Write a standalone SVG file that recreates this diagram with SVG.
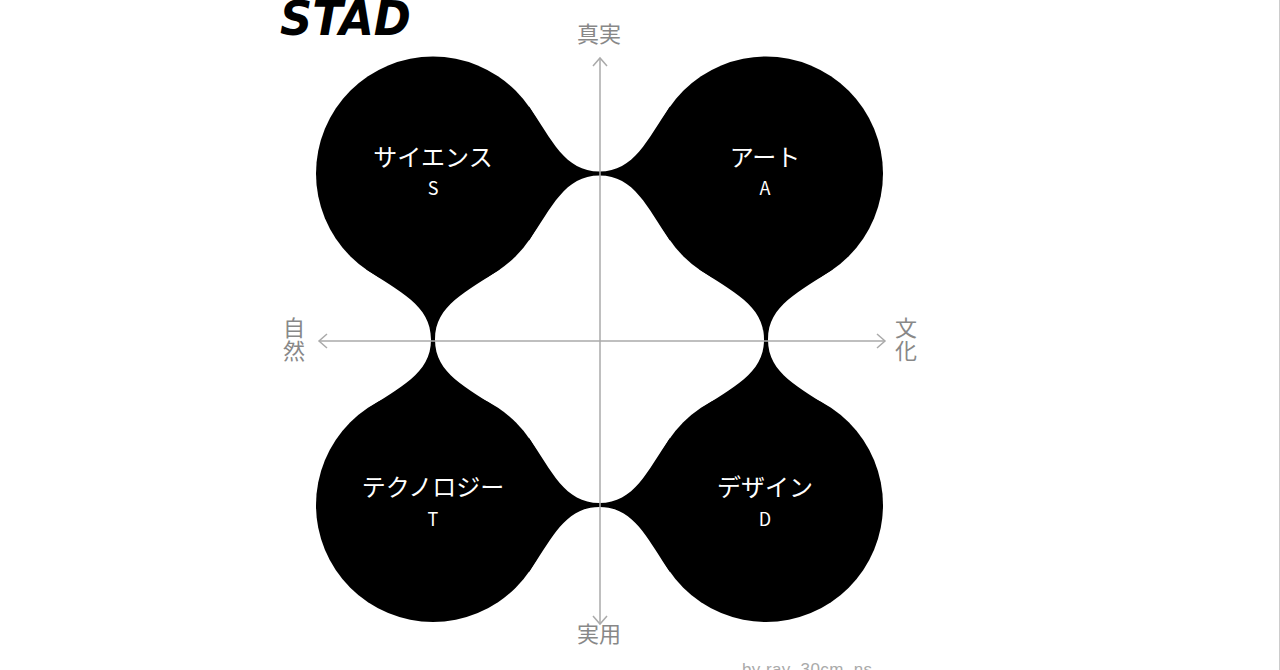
<svg xmlns="http://www.w3.org/2000/svg" width="1280" height="670" viewBox="0 0 1280 670">
<defs>
<style>
.blob{fill:#000}
.lbl{fill:#fff;font-family:"Noto Sans CJK JP","Noto Sans",sans-serif;text-anchor:middle}
.big{font-size:24px}
.small{font-size:18px}
.axis{fill:#888;font-family:"Noto Sans CJK JP",sans-serif;font-size:22px;text-anchor:middle}
.ax{stroke:#aaa;stroke-width:1.5;fill:none}
</style>
<marker id="arr" viewBox="0 0 12 16" refX="10" refY="8" markerWidth="12" markerHeight="16" markerUnits="userSpaceOnUse" orient="auto">
<path d="M2,1 L10,8 L2,15" fill="none" stroke="#aaa" stroke-width="1.5"/>
</marker>
<path id="bridge" d="M-70.5,-67 C-47.5,-34 -35,-2 0,-2 C35,-2 47.5,-34 70.5,-67 L70.5,67 C47.5,34 35,2 0,2 C-35,2 -47.5,34 -70.5,67 Z"/>
</defs>
<rect width="1280" height="670" fill="#fff"/>
<line x1="1279.5" y1="0" x2="1279.5" y2="670" stroke="#ccc" stroke-width="1"/>
<text x="280" y="35" font-family="DejaVu Sans" font-weight="bold" font-style="italic" font-size="48" textLength="131" lengthAdjust="spacingAndGlyphs" fill="#000">STAD</text>
<g id="shape" class="blob">
<use href="#bridge" transform="translate(599.5,173.5)"/>
<use href="#bridge" transform="translate(599.5,505)"/>
<use href="#bridge" transform="translate(433,339.5) rotate(90)"/>
<use href="#bridge" transform="translate(766,339.5) rotate(90)"/>
</g>
<g id="node-science"><circle class="blob" cx="433" cy="173.5" r="117"/><text class="lbl big" x="433" y="166">サイエンス</text><text class="lbl small" x="433" y="195">S</text></g>
<g id="node-art"><circle class="blob" cx="766" cy="173.5" r="117"/><text class="lbl big" x="765" y="166">アート</text><text class="lbl small" x="765" y="195">A</text></g>
<g id="node-technology"><circle class="blob" cx="433" cy="505" r="117"/><text class="lbl big" x="433" y="496">テクノロジー</text><text class="lbl small" x="433" y="526">T</text></g>
<g id="node-design"><circle class="blob" cx="766" cy="505" r="117"/><text class="lbl big" x="765" y="496">デザイン</text><text class="lbl small" x="765" y="526">D</text></g>
<g id="connectors">
<line class="ax" x1="600" y1="341" x2="600" y2="58" marker-end="url(#arr)"/>
<line class="ax" x1="600" y1="341" x2="600" y2="624" marker-end="url(#arr)"/>
<line class="ax" x1="600" y1="341" x2="319" y2="341" marker-end="url(#arr)"/>
<line class="ax" x1="600" y1="341" x2="885" y2="341" marker-end="url(#arr)"/>
</g>
<g id="axis-labels">
<text class="axis" x="599" y="42">真実</text>
<text class="axis" x="599" y="642">実用</text>
<text class="axis"><tspan x="294" y="336">自</tspan><tspan x="294" y="359">然</tspan></text>
<text class="axis"><tspan x="906" y="336">文</tspan><tspan x="906" y="359">化</tspan></text>
</g>
<text x="742" y="675" font-family="Liberation Sans" font-size="17" textLength="130" fill="#aaa">by ray_30cm_ns</text>
</svg>
